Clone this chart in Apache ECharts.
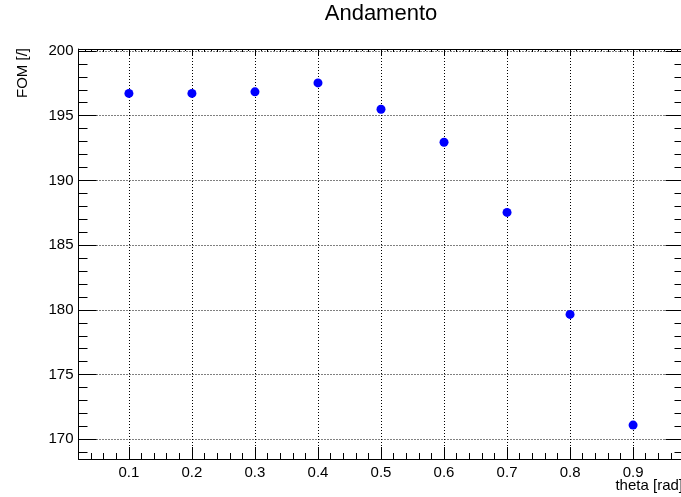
<!DOCTYPE html>
<html>
<head>
<meta charset="utf-8">
<script src="https://cdn.jsdelivr.net/npm/echarts@6/dist/echarts.min.js"></script>
<style>html,body{margin:0;padding:0;background:#fff;}#chart{width:681px;height:497px;}</style>
</head>
<body>
<div id="chart"></div>
<script>
// ---- data ----
var thetaValues = [0.1, 0.2, 0.3, 0.4, 0.5, 0.6, 0.7, 0.8, 0.9];
var fomValues = [196.72, 196.72, 196.84, 197.53, 195.50, 192.95, 187.53, 179.65, 171.10];
var xTickValues = [0.1, 0.2, 0.3, 0.4, 0.5, 0.6, 0.7, 0.8, 0.9];
var yTickValues = [170, 175, 180, 185, 190, 195, 200];
var xRange = [0.02, 0.98];
var yRange = [168.48, 200.15];
var titleText = 'Andamento';
var xTitle = 'theta [rad]';
var yTitle = 'FOM [/]';

// minor tick positions
var xMinor = [], xFine = [], yMinor = [];
for (var i = 4; i <= 96; i += 2) { if (i % 10 !== 0) xMinor.push(i / 100); }
for (var j = 3; j <= 97; j += 2) { xFine.push(j / 100); }
for (var k = 169; k <= 200; k++) { if (k % 5 !== 0) yMinor.push(k); }

var FONT = '"Liberation Sans", Arial, Helvetica, sans-serif';
var chart = echarts.init(document.getElementById('chart'), null, {renderer: 'canvas'});

function tickAxis(base, pos, vals, len, line) {
  return {
    type: 'value', position: pos, min: base[0], max: base[1],
    axisLine: {show: !!line, onZero: false, lineStyle: {color: '#000', width: 1}},
    axisTick: {show: true, inside: true, length: len, customValues: vals, lineStyle: {color: '#000', width: 1}},
    axisLabel: {show: false},
    splitLine: {show: false}
  };
}

var gridStyle = {show: true, lineStyle: {color: '#000', width: 1, type: [1, 2]}};

var option = {
  animation: false,
  backgroundColor: '#fff',
  grid: {left: 78.5, top: 49, width: 605, height: 410, containLabel: false, outerBoundsMode: 'none'},
  xAxis: [
    {
      type: 'value', position: 'bottom', min: xRange[0], max: xRange[1], splitNumber: 10,
      axisLine: {show: true, onZero: false, lineStyle: {color: '#000', width: 1}},
      axisTick: {show: true, inside: true, length: 12, customValues: xTickValues, lineStyle: {color: '#000'}},
      axisLabel: {show: true, customValues: xTickValues, margin: 6, color: '#000', fontSize: 15, fontFamily: FONT,
        formatter: function (v) { return Number(v).toFixed(1); }},
      splitLine: gridStyle
    },
    tickAxis(xRange, 'bottom', xMinor, 6, false),
    tickAxis(xRange, 'top', xTickValues, 6, true),
    tickAxis(xRange, 'top', xMinor, 3, false),
    tickAxis(xRange, 'top', xFine, 2, false)
  ],
  yAxis: [
    {
      type: 'value', position: 'left', min: yRange[0], max: yRange[1], splitNumber: 6,
      axisLine: {show: true, onZero: false, lineStyle: {color: '#000', width: 1}},
      axisTick: {show: true, inside: true, length: 18, customValues: yTickValues, lineStyle: {color: '#000'}},
      axisLabel: {show: true, customValues: yTickValues, margin: 5, color: '#000', fontSize: 15, fontFamily: FONT,
        formatter: function (v) { return String(Math.round(v)); }},
      splitLine: gridStyle
    },
    tickAxis(yRange, 'left', yMinor, 9, false),
    tickAxis(yRange, 'right', yTickValues, 18, true),
    tickAxis(yRange, 'right', yMinor, 9, false)
  ],
  series: [{
    type: 'scatter',
    xAxisIndex: 0, yAxisIndex: 0,
    symbol: 'circle', symbolSize: 9,
    itemStyle: {color: '#0000ff', opacity: 1},
    data: thetaValues.map(function (t, i) { return [t, fomValues[i]]; })
  }],
  graphic: [
    {type: 'text', x: 381, y: 14, style: {text: titleText, fill: '#000', font: '22px ' + FONT, align: 'center', verticalAlign: 'middle'}},
    {type: 'text', x: 683, y: 486, style: {text: xTitle, fill: '#000', font: '15px ' + FONT, align: 'right', verticalAlign: 'middle'}},
    {type: 'text', x: 22.5, y: 48, rotation: Math.PI / 2, style: {text: yTitle, fill: '#000', font: '15px ' + FONT, align: 'right', verticalAlign: 'middle'}}
  ]
};
chart.setOption(option);
</script>
</body>
</html>
